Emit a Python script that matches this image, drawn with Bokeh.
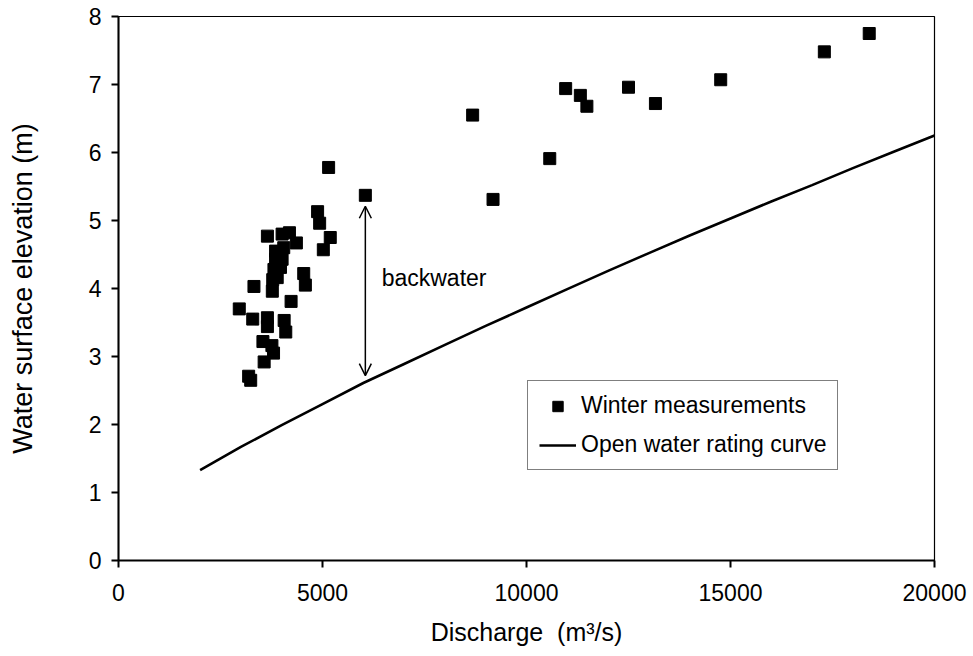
from bokeh.plotting import figure
from bokeh.models import (Range1d, FixedTicker, Legend, LegendItem, Arrow, OpenHead, Label)
from bokeh.embed import file_html
from bokeh.resources import INLINE

# ---- data ----
winter_q = [2960, 3190, 3240, 3290, 3320, 3540, 3570, 3650, 3650, 3650,
            3760, 3800, 3770, 3780, 3890, 3810, 3970, 3850, 4010, 3850,
            4050, 4010, 4190, 4360, 4060, 4100, 4230, 4540, 4580, 4880,
            4930, 5020, 5190, 5150, 6050, 8680, 9180, 10570, 10960, 11320,
            11480, 12500, 13160, 14760, 17300, 18400]
winter_h = [3.70, 2.71, 2.65, 3.55, 4.03, 3.22, 2.92, 4.77, 3.57, 3.44,
            3.16, 3.05, 3.96, 4.13, 4.16, 4.28, 4.31, 4.43, 4.43, 4.55,
            4.60, 4.80, 4.82, 4.67, 3.53, 3.36, 3.81, 4.22, 4.05, 5.13,
            4.96, 4.57, 4.75, 5.78, 5.37, 6.55, 5.31, 5.91, 6.94, 6.84,
            6.68, 6.96, 6.72, 7.07, 7.48, 7.75]

rating_q = [2000, 3000, 4000, 5000, 6000, 7000, 8000, 9000, 10000, 11000,
            12000, 13000, 14000, 15000, 16000, 17000, 18000, 19000, 20000]
rating_h = [1.33, 1.67, 1.99, 2.30, 2.61, 2.89, 3.17, 3.45, 3.72, 3.99,
            4.26, 4.52, 4.78, 5.03, 5.28, 5.52, 5.77, 6.01, 6.25]

x_ticks = [0, 5000, 10000, 15000, 20000]
y_ticks = [0, 1, 2, 3, 4, 5, 6, 7, 8]

arrow_q = 6050
arrow_bottom = 2.72
arrow_top = 5.21
arrow_text = "backwater"
arrow_text_q = 6450
arrow_text_h = 4.16

FONT = "Liberation Sans"

p = figure(width=973, height=656, output_backend="svg", toolbar_location=None,
           x_range=Range1d(0, 20000), y_range=Range1d(0, 8),
           min_border_left=118, min_border_right=39, min_border_top=16, min_border_bottom=96)
p.background_fill_color = "white"
p.border_fill_color = "white"
p.outline_line_color = "black"
p.outline_line_width = 1.2
p.xgrid.visible = False
p.ygrid.visible = False

for ax in (p.xaxis[0], p.yaxis[0]):
    ax.axis_line_width = 2
    ax.axis_line_color = "black"
    ax.major_tick_line_width = 2
    ax.major_tick_line_color = "black"
    ax.major_tick_in = 0
    ax.major_tick_out = 7
    ax.minor_tick_line_color = None
    ax.major_label_text_font = FONT
    ax.major_label_text_font_size = "23px"
    ax.major_label_text_color = "black"
    ax.axis_label_text_font = FONT
    ax.axis_label_text_font_style = "normal"
    ax.axis_label_text_color = "black"

p.xaxis.ticker = FixedTicker(ticks=x_ticks)
p.yaxis.ticker = FixedTicker(ticks=y_ticks)
p.xaxis.major_label_standoff = 16
p.yaxis.major_label_standoff = 10
p.xaxis.axis_label = "Discharge\u00a0\u00a0(m\u00b3/s)"
p.yaxis.axis_label = "Water surface elevation (m)"
p.xaxis.axis_label_text_font_size = "25px"
p.yaxis.axis_label_text_font_size = "27px"
p.xaxis.axis_label_standoff = 14
p.yaxis.axis_label_standoff = 48

curve = p.line(rating_q, rating_h, line_color="black", line_width=2.6)
pts = p.scatter(winter_q, winter_h, marker="square", size=12,
                fill_color="black", line_color="black", line_width=1)

p.add_layout(Arrow(start=OpenHead(size=12, line_width=1.5, line_color="black"),
                   end=OpenHead(size=12, line_width=1.5, line_color="black"),
                   x_start=arrow_q, y_start=arrow_bottom, x_end=arrow_q, y_end=arrow_top,
                   line_width=1.5, line_color="black"))
p.add_layout(Label(x=arrow_text_q, y=arrow_text_h, text=arrow_text,
                   text_font=FONT, text_font_size="23px", text_baseline="middle",
                   text_color="black"))

legend = Legend(items=[LegendItem(label="Winter measurements", renderers=[pts]),
                       LegendItem(label="Open water rating curve", renderers=[curve])],
                location=(409, 90), orientation="vertical",
                label_text_font=FONT, label_text_font_size="23px",
                label_text_color="black",
                border_line_color="black", border_line_width=1.2,
                background_fill_color="white", background_fill_alpha=1,
                padding=11, spacing=12, margin=0,
                glyph_width=37, glyph_height=26, label_standoff=5,
                label_height=26)
p.add_layout(legend, "center")

open("out.html", "w").write(file_html(p, INLINE))
